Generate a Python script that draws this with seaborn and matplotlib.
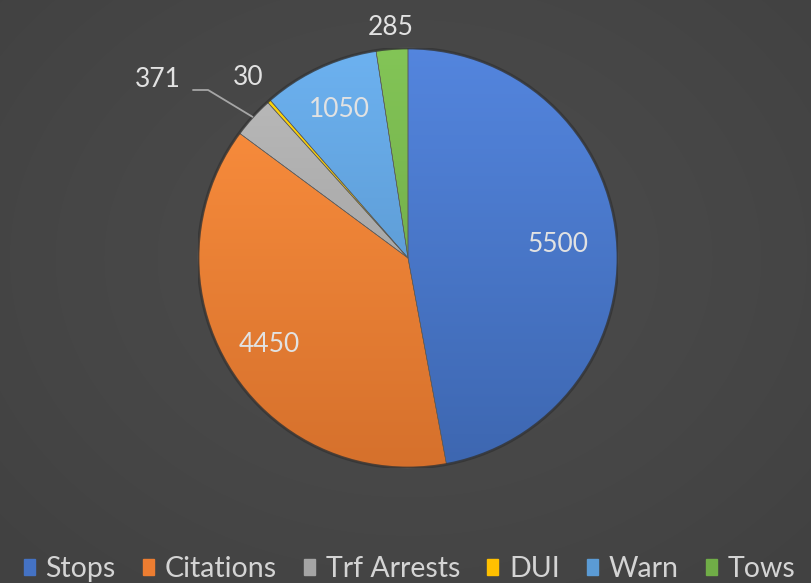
import numpy as np
import matplotlib
matplotlib.use("Agg")
import matplotlib.pyplot as plt
import matplotlib.colors as mcolors
import seaborn as sns

categories = ["Stops", "Citations", "Trf Arrests", "DUI", "Warn", "Tows"]
values = [5500, 4450, 371, 30, 1050, 285]
colors = ["#4472C4", "#ED7D31", "#A5A5A5", "#FFC000", "#5B9BD5", "#70AD47"]

sns.set_theme(style="dark")
plt.rcParams["font.family"] = ["Lato", "DejaVu Sans"]

W, H = 811, 583
fig = plt.figure(figsize=(W / 100, H / 100), dpi=100)

# subtle radial gradient background
bg = fig.add_axes([0, 0, 1, 1], zorder=-1)
yy, xx = np.mgrid[0:H, 0:W]
d = np.sqrt(((xx - 408) / 560.0) ** 2 + ((yy - 258) / 440.0) ** 2)
d = np.clip(d, 0, 1)
c0, c1 = 0x4b / 255, 0x41 / 255
img = c0 + (c1 - c0) * d ** 1.5
bg.imshow(np.dstack([img, img, img]), aspect="auto", extent=[0, 1, 0, 1])
bg.set_axis_off()

cx, cy, r = 408, 258, 210
ax = fig.add_axes([(cx - r) / W, (H - cy - r) / H, 2 * r / W, 2 * r / H])
ax.set_facecolor("none")
wedges, _ = ax.pie(values, colors=colors, startangle=90, counterclock=False,
                   radius=1.0, wedgeprops=dict(linewidth=0.4, edgecolor="#5a5a5a"))
ax.set_xlim(-1, 1)
ax.set_ylim(-1, 1)
ax.set_aspect("equal")
ax.set_axis_off()

# vertical shading inside each wedge (lighter top, darker bottom)
grad = np.linspace(1, 0, 256)[:, None]
for w, c in zip(wedges, colors):
    base = np.array(mcolors.to_rgb(c))
    top = np.clip(base * 1.08 + 0.04, 0, 1)
    bot = base * 0.9
    g = grad[..., None] * top + (1 - grad[..., None]) * bot
    g = np.repeat(g, 2, axis=1)
    im = ax.imshow(g, extent=[-1, 1, -1, 1], aspect="auto", zorder=w.get_zorder() + 0.1,
                   interpolation="bilinear")
    im.set_clip_path(w)
    w.set_zorder(w.get_zorder() + 0.2)
    w.set_facecolor("none")

# soft dark outline around the pie
ax.add_patch(plt.Circle((0, 0), 1.0, fill=False, lw=2.0, ec="#333333", alpha=0.8, zorder=5))

label_r = [0.72, 0.78, 1.45, 1.15, 0.78, 1.10]
txt_color = "#e2e2e2"
for w, v, lr in zip(wedges, values, label_r):
    ang = np.deg2rad((w.theta1 + w.theta2) / 2)
    x, y = lr * np.cos(ang), lr * np.sin(ang)
    if lr == 1.45:
        ex, ey = np.cos(ang), np.sin(ang)
        ax.plot([ex, -0.952, -1.024], [ey, 0.80, 0.80], color="#a6a6a6", lw=1.3,
                clip_on=False, zorder=6)
        x, y = -1.19, 0.848
    ax.text(x, y, f"{v}", ha="center", va="center", fontsize=19, color=txt_color,
            clip_on=False, zorder=7)

handles = [plt.Rectangle((0, 0), 1, 1, color=c) for c in colors]
leg = fig.legend(handles, categories, loc="lower center", bbox_to_anchor=(0.505, -0.043),
                 ncol=6, frameon=False, fontsize=20.5, handlelength=0.39, handleheight=0.5,
                 handletextpad=0.38, columnspacing=0.95, labelcolor="#d4d4d4")

fig.savefig("out.png", dpi=100)
